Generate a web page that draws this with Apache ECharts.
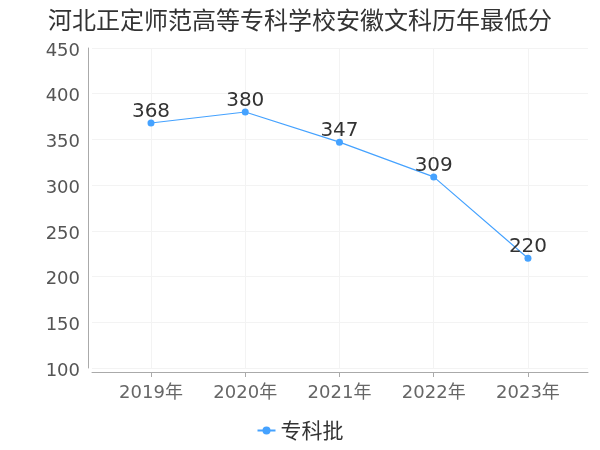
<!DOCTYPE html>
<html><head><meta charset="utf-8">
<script src="https://cdn.jsdelivr.net/npm/echarts@6/dist/echarts.min.js"></script>
<style>html,body{margin:0;padding:0;background:#fff}#c{width:600px;height:450px}</style>
</head><body><div id="c"></div>
<script>
var years = [2019, 2020, 2021, 2022, 2023];
var scores = [368, 380, 347, 309, 220];
var yTicks = [100, 150, 200, 250, 300, 350, 400, 450];
var seriesName = '专科批';
var titleText = '河北正定师范高等专科学校安徽文科历年最低分';

var chart = echarts.init(document.getElementById('c'));
var font = '"DejaVu Sans", "Noto Sans CJK SC", sans-serif';
var cjk = '"Noto Sans CJK SC", sans-serif';
chart.setOption({
  animation: false,
  title: {text: titleText, left: 'center', top: 3,
    textStyle: {fontSize: 24, fontWeight: 'normal', color: '#333', fontFamily: cjk}},
  legend: {data: [seriesName], bottom: 4, left: 'center', itemWidth: 18, itemHeight: 10, itemGap: 6,
    textStyle: {fontSize: 21, color: '#333', fontFamily: cjk}},
  grid: {left: 92, right: 12, top: 48, bottom: 82},
  xAxis: {type: 'value', min: 2018.374, max: 2023.637, offset: 4,
    axisLine: {lineStyle: {color: '#aaa'}},
    axisTick: {show: true, customValues: years, lineStyle: {color: '#aaa'}},
    axisLabel: {customValues: years, fontSize: 18, color: '#666', fontFamily: font, margin: 12,
      formatter: function (v) { return v + '年'; }},
    splitLine: {show: true, lineStyle: {color: '#f3f3f3'}}},
  yAxis: {type: 'value', min: yTicks[0], max: yTicks[yTicks.length - 1], interval: 50, offset: 4,
    axisLine: {show: true, lineStyle: {color: '#aaa'}},
    axisTick: {show: false},
    axisLabel: {fontSize: 18, color: '#555', fontFamily: font, margin: 8, verticalAlign: 'top', lineHeight: 6},
    splitLine: {show: true, lineStyle: {color: '#f3f3f3'}}},
  series: [{name: seriesName, type: 'line',
    data: years.map(function (y, i) { return [y, scores[i]]; }),
    symbol: 'circle', symbolSize: 7,
    itemStyle: {color: '#45a2ff'}, lineStyle: {color: '#45a2ff', width: 1.2},
    label: {show: true, position: 'top', fontSize: 20, color: '#333', fontFamily: font, distance: 1, offset: [0, 3]}}]
});
</script></body></html>
